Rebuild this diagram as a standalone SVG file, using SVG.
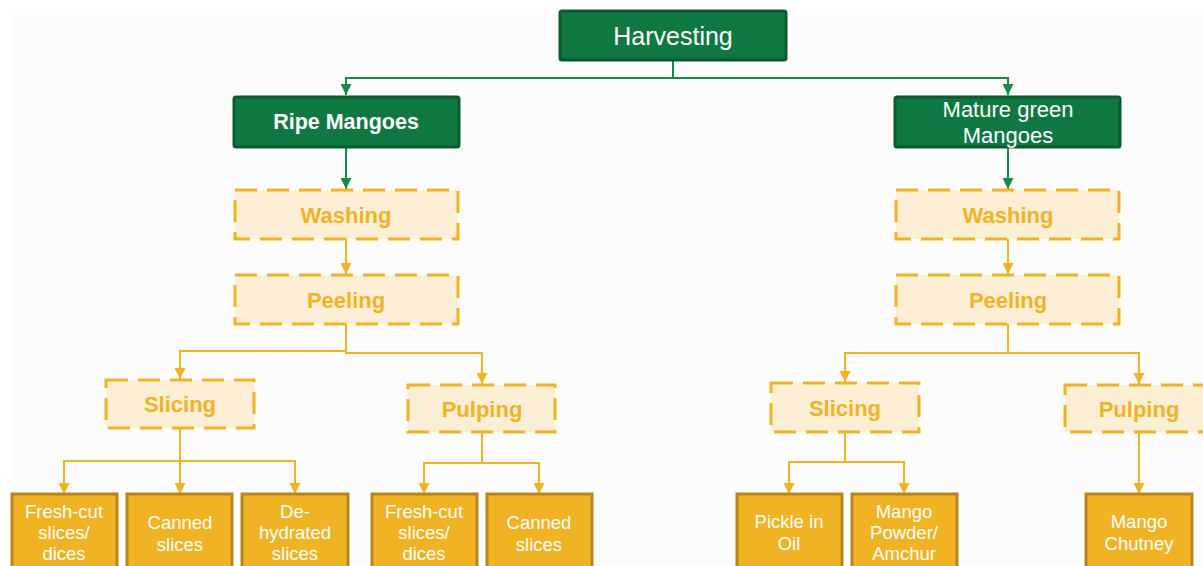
<svg xmlns="http://www.w3.org/2000/svg" width="1203" height="566" viewBox="0 0 1203 566">
<defs>
<style>
.g rect{fill:#0f7842;stroke:#0a5a30;stroke-width:3}
.g text{fill:#fff;font-family:"Liberation Sans",Arial,sans-serif;text-anchor:middle;dominant-baseline:central}
.d rect{fill:#fcefd6;stroke:#f0b323;stroke-width:3;stroke-dasharray:22 10}
.d text{fill:#f0b323;font-family:"Liberation Sans",Arial,sans-serif;font-weight:bold;font-size:22px;text-anchor:middle;dominant-baseline:central}
.p rect{fill:#f0b323;stroke:#b7861a;stroke-width:3}
.p text{fill:#fff;font-family:"Liberation Sans",Arial,sans-serif;font-size:18.5px;text-anchor:middle;dominant-baseline:central}
.cg{fill:none;stroke:#17894a;stroke-width:2}
.co{fill:none;stroke:#f0b323;stroke-width:2}
</style>
<marker id="ag" viewBox="0 0 10 10" refX="10" refY="5" markerWidth="12" markerHeight="11" markerUnits="userSpaceOnUse" orient="auto"><path d="M0,0L10,5L0,10z" fill="#17894a"/></marker>
<marker id="ao" viewBox="0 0 10 10" refX="10" refY="5" markerWidth="12" markerHeight="11" markerUnits="userSpaceOnUse" orient="auto"><path d="M0,0L10,5L0,10z" fill="#f0b323"/></marker>
</defs>
<rect width="1203" height="566" fill="#ffffff"/>
<rect x="10" y="10" width="1193" height="556" fill="#fcfcfc"/>
<g id="connectors">
<path class="cg" d="M673,60V78"/>
<path class="cg" d="M673,78H346V95" marker-end="url(#ag)"/>
<path class="cg" d="M673,78H1008V95" marker-end="url(#ag)"/>
<path class="cg" d="M346,147V189" marker-end="url(#ag)"/>
<path class="cg" d="M1008,147V189" marker-end="url(#ag)"/>
<path class="co" d="M346,239V274" marker-end="url(#ao)"/>
<path class="co" d="M1008,239V274" marker-end="url(#ao)"/>
<path class="co" d="M346,324V351H180V379" marker-end="url(#ao)"/>
<path class="co" d="M346,351V353H482V384" marker-end="url(#ao)"/>
<path class="co" d="M1008,324V353H845V382" marker-end="url(#ao)"/>
<path class="co" d="M1008,353H1139V384" marker-end="url(#ao)"/>
<path class="co" d="M180,428V494" marker-end="url(#ao)"/>
<path class="co" d="M180,461H64V494" marker-end="url(#ao)"/>
<path class="co" d="M180,461H295V494" marker-end="url(#ao)"/>
<path class="co" d="M482,432V463H424V494" marker-end="url(#ao)"/>
<path class="co" d="M482,463H539V494" marker-end="url(#ao)"/>
<path class="co" d="M845,432V462H789V494" marker-end="url(#ao)"/>
<path class="co" d="M845,462H904V494" marker-end="url(#ao)"/>
<path class="co" d="M1139,432V494" marker-end="url(#ao)"/>
</g>
<g id="harvesting" class="g"><rect x="560" y="11" width="226" height="49" rx="2"/><text x="673" y="36" font-size="25">Harvesting</text></g>
<g id="ripe" class="g"><rect x="234" y="97" width="225" height="50" rx="2"/><text x="346" y="122" font-size="21.5" font-weight="bold">Ripe Mangoes</text></g>
<g id="mature" class="g"><rect x="895" y="97" width="225" height="50" rx="2"/><text x="1008" y="109" font-size="22">Mature green</text><text x="1008" y="135" font-size="22">Mangoes</text></g>
<g id="washL" class="d"><rect x="235" y="190" width="223" height="49"/><text x="346" y="215">Washing</text></g>
<g id="peelL" class="d"><rect x="235" y="275" width="223" height="49"/><text x="346" y="300">Peeling</text></g>
<g id="washR" class="d"><rect x="896" y="190" width="223" height="49"/><text x="1008" y="215">Washing</text></g>
<g id="peelR" class="d"><rect x="896" y="275" width="223" height="49"/><text x="1008" y="300">Peeling</text></g>
<g id="sliceL" class="d"><rect x="106" y="380" width="148" height="48"/><text x="180" y="404">Slicing</text></g>
<g id="pulpL" class="d"><rect x="408" y="385" width="147" height="47"/><text x="482" y="409">Pulping</text></g>
<g id="sliceR" class="d"><rect x="771" y="383" width="148" height="49"/><text x="845" y="408">Slicing</text></g>
<g id="pulpR" class="d"><rect x="1065" y="385" width="150" height="47"/><text x="1139" y="409">Pulping</text></g>
<g id="fcL" class="p"><rect x="12" y="494" width="105" height="80"/><text x="64" y="511">Fresh-cut</text><text x="64" y="532">slices/</text><text x="64" y="553">dices</text></g>
<g id="canL" class="p"><rect x="127" y="494" width="105" height="80"/><text x="180" y="522">Canned</text><text x="180" y="544">slices</text></g>
<g id="dehyd" class="p"><rect x="242" y="494" width="106" height="80"/><text x="295" y="511">De-</text><text x="295" y="532">hydrated</text><text x="295" y="553">slices</text></g>
<g id="fcP" class="p"><rect x="372" y="494" width="105" height="80"/><text x="424" y="511">Fresh-cut</text><text x="424" y="532">slices/</text><text x="424" y="553">dices</text></g>
<g id="canP" class="p"><rect x="487" y="494" width="105" height="80"/><text x="539" y="522">Canned</text><text x="539" y="544">slices</text></g>
<g id="pickle" class="p"><rect x="737" y="494" width="105" height="80"/><text x="789" y="521">Pickle in</text><text x="789" y="543">Oil</text></g>
<g id="powder" class="p"><rect x="852" y="494" width="105" height="80"/><text x="904" y="511">Mango</text><text x="904" y="532">Powder/</text><text x="904" y="553">Amchur</text></g>
<g id="chutney" class="p"><rect x="1086" y="494" width="106" height="80"/><text x="1139" y="521">Mango</text><text x="1139" y="543">Chutney</text></g>
</svg>
